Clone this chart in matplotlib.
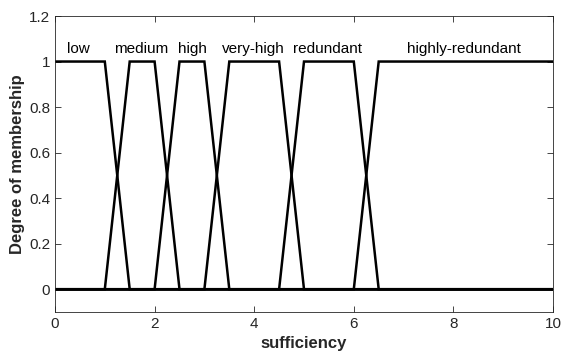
import matplotlib
matplotlib.use("Agg")
import matplotlib.pyplot as plt

plt.rcParams['font.family'] = ['Liberation Sans', 'DejaVu Sans']

# trapezoid membership functions: break points and membership values
mf_names = ["low", "medium", "high", "very-high", "redundant", "highly-redundant"]
mf_x = [
    [0, 1, 1.5, 10],
    [0, 1, 1.5, 2, 2.5, 10],
    [0, 2, 2.5, 3, 3.5, 10],
    [0, 3, 3.5, 4.5, 5, 10],
    [0, 4.5, 5, 6, 6.5, 10],
    [0, 6, 6.5, 10],
]
mf_y = [
    [1, 1, 0, 0],
    [0, 0, 1, 1, 0, 0],
    [0, 0, 1, 1, 0, 0],
    [0, 0, 1, 1, 0, 0],
    [0, 0, 1, 1, 0, 0],
    [0, 0, 1, 1],
]
label_x = [0.46, 1.74, 2.75, 3.98, 5.47, 8.22]
label_y = 1.055

fig = plt.figure(figsize=(5.61, 3.63), dpi=100)
ax = fig.add_axes([55 / 561, 1 - 312 / 363, 498 / 561, 296 / 363])

for i in range(len(mf_names)):
    ax.plot(mf_x[i], mf_y[i], color="black", lw=1.8, solid_joinstyle="miter")
    ax.text(label_x[i], label_y, mf_names[i], ha="center", va="center", fontsize=11)

ax.set_xlim(0, 10)
ax.set_ylim(-0.1, 1.2)
ax.set_xticks([0, 2, 4, 6, 8, 10])
ax.set_yticks([0, 0.2, 0.4, 0.6, 0.8, 1, 1.2])
ax.set_yticklabels(["0", "0.2", "0.4", "0.6", "0.8", "1", "1.2"])
ax.tick_params(direction="in", top=True, right=True, labelsize=11, colors="#262626",
               length=4, width=0.6)
for s in ax.spines.values():
    s.set_color("#262626")
    s.set_linewidth(0.6)
ax.set_xlabel("sufficiency", fontsize=12, fontweight="bold", color="#262626")
ax.set_ylabel("Degree of membership", fontsize=12, fontweight="bold", color="#262626",
              labelpad=3)

plt.savefig("out.png", dpi=100)
